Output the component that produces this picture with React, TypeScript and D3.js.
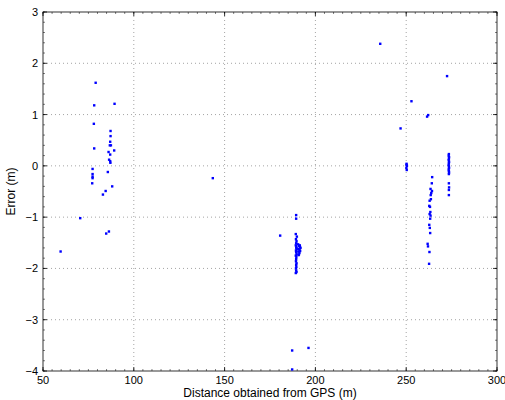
import React from "react";
import * as d3 from "d3";

const xTicks = [50, 100, 150, 200, 250, 300];
const yTicks = [-4, -3, -2, -1, 0, 1, 2, 3];

const leftX = [79, 78.2, 89.4, 78, 87.2, 87.2, 87, 86.8, 87.4, 78.2, 89.2, 86.1, 87, 86.4, 87, 87.1, 77.3, 85.7, 77.3, 77.3, 77.3, 77.1, 88.1, 84.5, 83, 70.5, 86.3, 84.8, 59.7, 143.5];
const leftY = [1.62, 1.18, 1.21, 0.82, 0.68, 0.58, 0.47, 0.4, 0.4, 0.34, 0.3, 0.27, 0.22, 0.12, 0.09, 0.06, -0.06, -0.12, -0.16, -0.21, -0.24, -0.34, -0.4, -0.49, -0.56, -1.02, -1.28, -1.32, -1.67, -0.24];

const midX = [189.4, 189.4, 180.6, 189.2, 189.8, 189.3, 189.6, 189.4, 189.2, 189.5, 189.7, 189.3, 189.4, 189.6, 189.2, 189.5, 189.4, 189.3, 189.6, 189.4, 189.5, 189.3, 189.4, 189.6, 189.2, 189.5, 190.5, 191.0, 191.5, 190.8, 191.3, 191.8, 190.6, 191.2, 191.6, 190.9, 191.4, 190.7, 187.2, 196.2, 187.2];
const midY = [-0.96, -1.03, -1.36, -1.33, -1.38, -1.43, -1.47, -1.51, -1.55, -1.58, -1.62, -1.65, -1.68, -1.72, -1.75, -1.78, -1.82, -1.86, -1.9, -1.93, -1.97, -2.0, -2.04, -2.07, -2.09, -1.6, -1.53, -1.56, -1.58, -1.62, -1.64, -1.6, -1.67, -1.7, -1.66, -1.73, -1.55, -1.74, -3.6, -3.55, -3.97];

const rightX = [235.7, 272.5, 252.9, 262.1, 261.5, 246.9, 250.2, 250.4, 250.1, 250.3, 250.2,
  273.5, 273.4, 273.6, 273.5, 273.4, 273.6, 273.5, 273.4, 273.5, 273.6, 273.4, 273.5, 273.6, 273.5, 273.5, 273.6, 273.5, 273.5,
  264.3, 264.1, 263.4, 264.2, 263.8, 263.5, 263.6, 262.9, 262.7, 263.1, 263.3, 262.9, 263.4, 263.2, 262.7, 263.0, 263.2, 261.8, 262, 262.8, 262.6];
const rightY = [2.38, 1.75, 1.26, 0.99, 0.96, 0.73, 0.04, 0.0, -0.04, -0.08, 0.02,
  0.23, 0.2, 0.17, 0.14, 0.11, 0.08, 0.05, 0.02, -0.01, -0.04, -0.07, -0.1, -0.13, -0.16, -0.34, -0.42, -0.47, -0.57,
  -0.22, -0.34, -0.45, -0.49, -0.53, -0.57, -0.65, -0.68, -0.78, -0.8, -0.9, -0.94, -0.97, -1.03, -1.15, -1.21, -1.31, -1.52, -1.57, -1.68, -1.91];

const W = 505, H = 400;
const L = 43, R = 497, T = 12, B = 371;

export default function App() {
  const x = d3.scaleLinear().domain([50, 300]).range([L, R]);
  const y = d3.scaleLinear().domain([-4, 3]).range([B, T]);
  const xs = [...leftX, ...midX, ...rightX];
  const ys = [...leftY, ...midY, ...rightY];
  const xMinor = d3.range(50, 300.01, 5);
  const yMinor = d3.range(-4, 3.001, 0.2);
  const font = "Liberation Sans, Arial, sans-serif";
  return (
    <svg width={W} height={H} style={{ position: "absolute", left: 0, top: 0, background: "#fff" }}>
      <rect x={0} y={0} width={W} height={H} fill="#fff" />
      {xTicks.slice(1, -1).map((t) => (
        <line key={"gx" + t} x1={x(t)} x2={x(t)} y1={T} y2={B} stroke="#666" strokeWidth={0.6} strokeDasharray="1,3" />
      ))}
      {yTicks.slice(1, -1).map((t) => (
        <line key={"gy" + t} x1={L} x2={R} y1={y(t)} y2={y(t)} stroke="#666" strokeWidth={0.6} strokeDasharray="1,3" />
      ))}
      {xMinor.map((t) => (
        <g key={"mx" + t}>
          <line x1={x(t)} x2={x(t)} y1={B} y2={B - 2} stroke="#000" strokeWidth={0.5} />
          <line x1={x(t)} x2={x(t)} y1={T} y2={T + 2} stroke="#000" strokeWidth={0.5} />
        </g>
      ))}
      {yMinor.map((t) => (
        <g key={"my" + t.toFixed(1)}>
          <line x1={L} x2={L + 2} y1={y(t)} y2={y(t)} stroke="#000" strokeWidth={0.5} />
          <line x1={R} x2={R - 2} y1={y(t)} y2={y(t)} stroke="#000" strokeWidth={0.5} />
        </g>
      ))}
      {xTicks.map((t) => (
        <g key={"tx" + t}>
          <line x1={x(t)} x2={x(t)} y1={B} y2={B - 4} stroke="#000" strokeWidth={0.8} />
          <line x1={x(t)} x2={x(t)} y1={T} y2={T + 4} stroke="#000" strokeWidth={0.8} />
          <text x={x(t)} y={384} textAnchor="middle" fontSize={11} fontFamily={font}>{t}</text>
        </g>
      ))}
      {yTicks.map((t) => (
        <g key={"ty" + t}>
          <line x1={L} x2={L + 4} y1={y(t)} y2={y(t)} stroke="#000" strokeWidth={0.8} />
          <line x1={R} x2={R - 4} y1={y(t)} y2={y(t)} stroke="#000" strokeWidth={0.8} />
          <text x={L - 5} y={y(t) + 4} textAnchor="end" fontSize={11} fontFamily={font}>{t < 0 ? "\u2212" + Math.abs(t) : t}</text>
        </g>
      ))}
      <rect x={L} y={T} width={R - L} height={B - T} fill="none" stroke="#000" strokeWidth={0.8} />
      {xs.map((v, i) => (
        <rect key={"p" + i} x={x(v) - 1.2} y={y(ys[i]) - 1.2} width={2.4} height={2.4} fill="#0000ff" />
      ))}
      <text x={(L + R) / 2} y={397} textAnchor="middle" fontSize={12} fontFamily={font}>Distance obtained from GPS (m)</text>
      <text transform={`translate(15,${(T + B) / 2}) rotate(-90)`} textAnchor="middle" fontSize={12} fontFamily={font}>Error (m)</text>
    </svg>
  );
}
